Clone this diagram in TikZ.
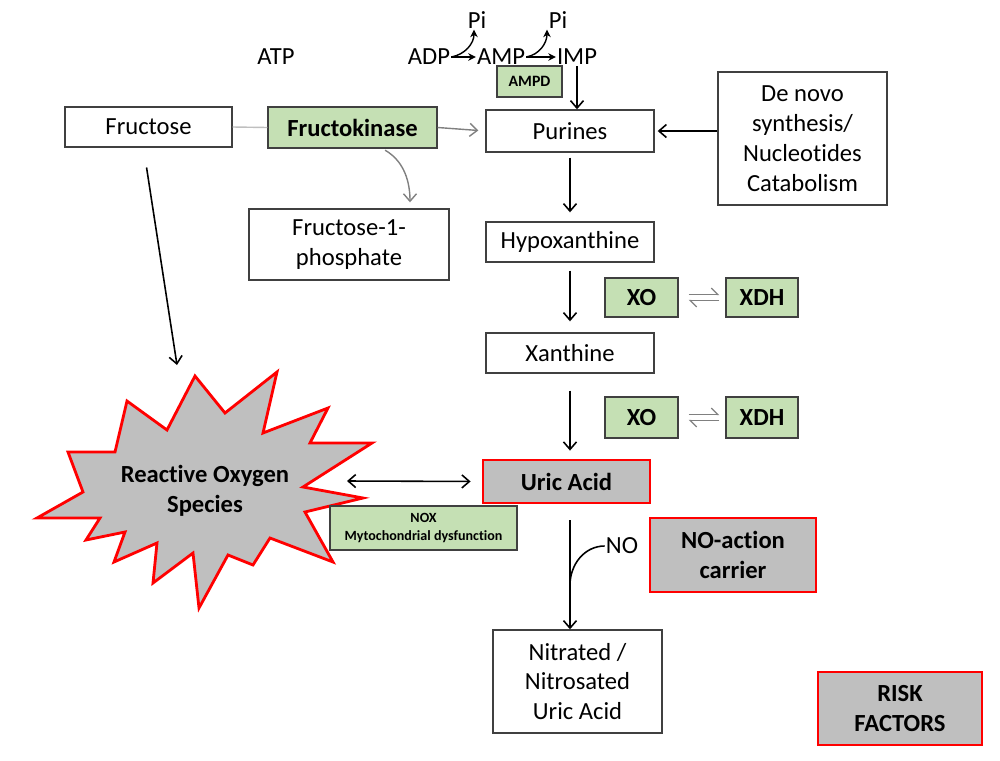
\documentclass[tikz,border=0pt]{standalone}
\usepackage{fontspec}
\setmainfont{Carlito}[Ligatures=NoCommon]
\usepackage{tikz}
\usetikzlibrary{arrows.meta, positioning, calc}
\definecolor{Leaf}{RGB}{197,224,180}
\definecolor{Ash}{RGB}{191,191,191}
\definecolor{Edge}{RGB}{64,64,64}

\begin{document}
\begin{tikzpicture}[x=0.2mm, y=-0.2mm, font=\fontsize{14}{17}\selectfont,
		Box/.style={
			draw=Edge,
			line width=0.8pt,
			fill=white,
			align=center,
			inner sep=2pt
		},
		Enzyme/.style={Box, fill=Leaf, font=\fontsize{14}{17}\selectfont\bfseries},
		Risk/.style={draw=red, line width=1.6pt, fill=Ash, align=center,
			font=\fontsize{14}{17}\selectfont\bfseries},
		Arrow/.style={-{Straight Barb[length=1.5mm,width=2.6mm]}, line width=0.9pt},
		Both/.style={{Straight Barb[length=1.5mm,width=2.6mm]}-{Straight Barb[length=1.5mm,width=2.6mm]}, line width=0.9pt},
		Small/.style={-{Stealth[length=1.5mm,width=1.5mm]}, line width=0.8pt},
		Harp/.style={-{Straight Barb[left,length=1.3mm,width=2.6mm]}, line width=0.7pt, gray},
		Plain/.style={inner sep=0.5pt}]
		\useasboundingbox (0,0) rectangle (1000,760);
		% ATP -> ADP -> AMP -> IMP
		\node[Plain] (Atp) at (276,57) {ATP};
		\node[Plain] (Adp) at (429,57) {ADP};
		\node[Plain] (Amp) at (501,57) {AMP};
		\node[Plain] (Imp) at (577,57) {IMP};
		\node[Plain] (Pia) at (477,20) {Pi};
		\node[Plain] (Pib) at (558,20) {Pi};
		\node[Enzyme, minimum width=13mm, minimum height=6.2mm, font=\fontsize{9}{10}\selectfont\bfseries] (Ampd) at (529.5,81.5) {AMPD};
		\draw[Small] (Adp.east) -- (Amp.west);
		\draw[Small] (Amp.east) -- (Imp.west);
		\draw[Small] (Adp.east) to[out=10,in=-90] ([xshift=-0.6mm]Pia.south);
		\draw[Small] (Amp.east) to[out=10,in=-90] ([xshift=-2.2mm]Pib.south);
		% boxes
		\node[Box, minimum width=33.4mm, minimum height=8mm] (Fru) at (148.5,127) {Fructose};
		\node[Enzyme, minimum width=33.8mm, minimum height=8.2mm] (Fk) at (352.5,127.5) {Fructokinase};
		\node[Box, minimum width=33.6mm, minimum height=8.4mm] (Pur) at (570,131) {Purines};
		\node[Box, minimum width=33.8mm, minimum height=26.6mm] (Dn) at (802.5,138.5) {De novo\\synthesis/\\Nucleotides\\Catabolism};
		\node[Box, minimum width=40mm, minimum height=14.2mm] (F1p) at (349,244.5) {Fructose-1-\\phosphate};
		\node[Box, minimum width=33.6mm, minimum height=8mm] (Hyp) at (570,242) {Hypoxanthine};
		\node[Box, minimum width=33.6mm, minimum height=8mm] (Xan) at (570,353) {Xanthine};
		\node[Enzyme, minimum width=14.6mm, minimum height=7.8mm] (XOa) at (641.5,297.5) {XO};
		\node[Enzyme, minimum width=14.4mm, minimum height=7.8mm] (XDHa) at (762,297.5) {XDH};
		\node[Enzyme, minimum width=14.6mm, minimum height=8.2mm] (XOb) at (641.5,417.5) {XO};
		\node[Enzyme, minimum width=14.4mm, minimum height=8.2mm] (XDHb) at (762,417.5) {XDH};
		\node[Risk, minimum width=33.4mm, minimum height=8.6mm] (Ua) at (566.5,481.5) {Uric Acid};
		\node[Risk, minimum width=33.2mm, minimum height=14.8mm] (NOc) at (733,555) {NO-action\\carrier};
		\node[Box, minimum width=33.8mm, minimum height=20.6mm] (Nua) at (577.5,681.5) {Nitrated /\\Nitrosated\\Uric Acid};
		\node[Risk, minimum width=32.8mm, minimum height=14.6mm] (Rf) at (900,708.5) {RISK\\FACTORS};
		% reactive oxygen species
		\draw[Risk, line join=miter] (195,376) -- (225,413) -- (277,372) -- (263,433) -- (328,408)
			-- (310,443) -- (372,443) -- (303,487) -- (363,498) -- (305,512) -- (333,562)
			-- (270,538) -- (253,565) -- (228,555) -- (199,608) -- (193,553) -- (153,583)
			-- (157,543) -- (114,562) -- (125,532) -- (86,540) -- (100,518) -- (37,518)
			-- (83,492) -- (68,452) -- (115,452) -- (127,401) -- (167,430) -- cycle;
		\node[align=center, font=\fontsize{14}{17}\selectfont\bfseries] (Ros) at (205,491) {Reactive Oxygen\\Species};
		\node[Enzyme, minimum width=37.4mm, minimum height=8.8mm, font=\fontsize{8}{10}\selectfont\bfseries] (Nox) at (423.5,528) {NOX\\Mytochondrial dysfunction};
		\coordinate (RosTop) at (177,365);
		\coordinate (RosR) at (347,481);
		\coordinate (Join) at (570,585);
		\node[Plain] (No) at (622,546) {NO};
		% connectors
		\draw[line width=0.8pt, black!25] (Fru.east) -- (Fk.west);
		\draw[Arrow, line width=0.8pt, gray, shorten >=1.4mm] (Fk.east) -- (Pur.west);
		\draw[Arrow, line width=0.8pt, gray, shorten <=0.6mm, shorten >=1.2mm] ([xshift=6mm]Fk.south) to[out=-30,in=90] ([xshift=12.2mm]F1p.north);
		\draw[Arrow] (Imp.south) -- (Imp.south |- Pur.north);
		\draw[Arrow, shorten >=0.6mm] (Dn.west |- Pur.east) -- (Pur.east);
		\draw[Arrow, shorten <=1mm, shorten >=1.8mm] (Pur.south) -- (Hyp.north);
		\draw[Arrow, shorten <=1.6mm, shorten >=2.2mm] (Hyp.south) -- (Xan.north);
		\draw[Arrow, shorten <=3.4mm, shorten >=1.6mm] (Xan.south) -- (Xan.south |- Ua.north);
		\foreach \o/\d in {XOa/XDHa, XOb/XDHb}{
			\draw[Harp, shorten <=2mm, shorten >=1.2mm] ([yshift=0.6mm]\o.east) -- ([yshift=0.6mm]\d.west);
			\draw[Harp, shorten <=1.2mm, shorten >=2mm] ([yshift=-0.6mm]\d.west) -- ([yshift=-0.6mm]\o.east);
		}
		\draw[Arrow, shorten <=4mm] ([xshift=-1mm]Fru.south) -- (RosTop);
		\draw[Both, shorten >=2.2mm] (RosR) -- (Ua.west);
		\draw[Arrow, shorten <=3.2mm] (Ua.south -| Join) -- (Join |- Nua.north);
		\draw[line width=0.9pt] (No.west) to[out=180,in=90] (Join);
	\end{tikzpicture}
\end{document}
